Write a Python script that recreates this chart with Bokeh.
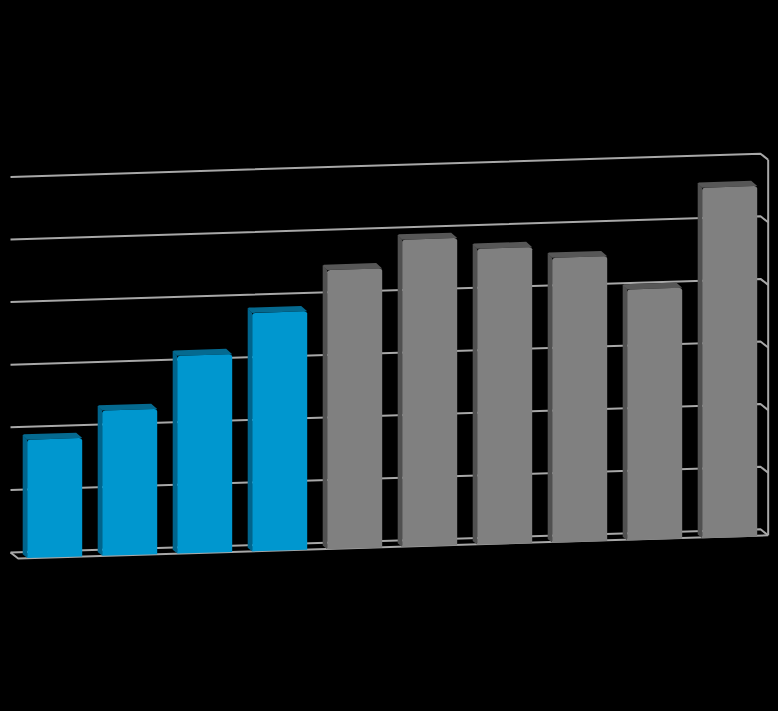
from bokeh.plotting import figure
from bokeh.models import Range1d
from bokeh.embed import file_html
from bokeh.resources import INLINE

# Data (value axis has no labels, 100 = one gridline step)
blue_values = [189, 232, 316, 381]
gray_values = [446, 491, 473, 455, 401, 560]
grid_values = [0, 100, 200, 300, 400, 500, 600]

# Style / projection settings
W, H = 778, 711
PX_PER_CAT = 75.0
PX_PER_VAL = 0.626
SHEAR = 3.5           # value units gained per category along the bar bases
WALL_SHEAR = 3.71     # same along the back wall
BAR_W = 0.7333
WALL_X0, WALL_X1 = -0.2227, 9.777
WALL_DY = 9.6
FRONT_DX, FRONT_DY = 0.1027, -9.6
TOP_DEPTH = 8.5
LINE = "#a8a8a8"
BLUE = dict(front="#0097cf", side="#00648c", top="#056a90")
GRAY = dict(front="#808080", side="#505050", top="#575757")

x0 = -26.7 / PX_PER_CAT
y0 = -(H - 557.5) / PX_PER_VAL

p = figure(width=W, height=H, output_backend="svg", toolbar_location=None,
           x_range=Range1d(x0, x0 + W / PX_PER_CAT),
           y_range=Range1d(y0, y0 + H / PX_PER_VAL),
           background_fill_color="#000000", border_fill_color="#000000",
           min_border=0, outline_line_color=None)
p.axis.visible = False
p.grid.visible = False


def fy(x, v):
    return v + SHEAR * x


def wall(v):
    left = v + WALL_SHEAR * WALL_X0 + WALL_DY
    right = v + WALL_SHEAR * WALL_X1 + WALL_DY
    return [WALL_X0, WALL_X1, WALL_X1 + FRONT_DX], [left, right, right + FRONT_DY]


# Back wall gridlines and right wall returns
for v in grid_values:
    xs, ys = wall(v)
    p.line(xs, ys, line_color=LINE, line_width=2)

# Floor front edge, left floor edge and right vertical
ftop = wall(grid_values[-1])
fbot = wall(grid_values[0])
p.line([WALL_X0, WALL_X0 + FRONT_DX, fbot[0][2]],
       [fbot[1][0], fbot[1][0] + FRONT_DY, fbot[1][2]],
       line_color=LINE, line_width=2)
p.line([ftop[0][2], fbot[0][2]], [ftop[1][2], fbot[1][2]],
       line_color=LINE, line_width=2)


def bar(i, v, c):
    l, r = i, i + BAR_W
    bl, br = fy(l, 0), fy(r, 0)
    tl, tr = fy(l, v), fy(r, v)
    bx, bxr = l - 0.06, r - 0.08
    # left side face
    p.patch([bx, l, l, bx], [tl + TOP_DEPTH - 1, tl, bl, bl + 6],
            fill_color=c["side"], line_color=None)
    # top face
    p.patch([bx, bx + 0.015, bxr, r, l],
            [tl + TOP_DEPTH - 2, tl + TOP_DEPTH, tr + TOP_DEPTH, tr, tl],
            fill_color=c["top"], line_color=None)
    # front face with softened top corners
    p.patch([l, l + 0.012, l + 0.04, r - 0.04, r - 0.012, r, r, l],
            [tl - 3.5, tl - 1, tl, tr, tr - 1, tr - 3.5, br, bl],
            fill_color=c["front"], line_color=None)


for i, v in enumerate(blue_values):
    bar(i, v, BLUE)
for i, v in enumerate(gray_values):
    bar(i + len(blue_values), v, GRAY)

html = file_html(p, INLINE)
html = html.replace("<head>", "<head><style>html,body{background:#000}</style>", 1)
open("out.html", "w").write(html)
